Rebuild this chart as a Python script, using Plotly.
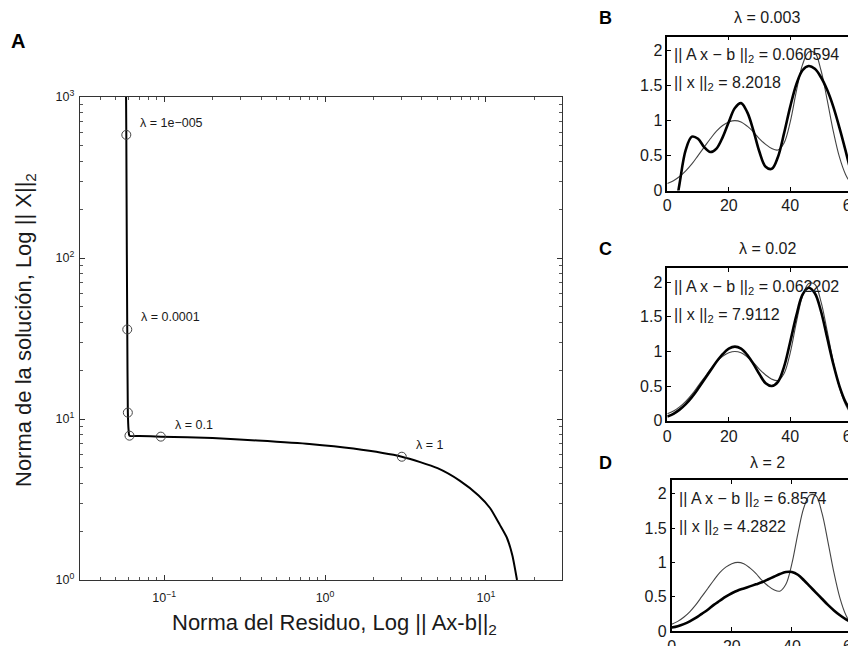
import math
import plotly.graph_objects as go

W, H = 856, 646
OFF = 8  # page body margin in the browser

# ---------------- Panel A : L-curve ----------------
res_curve = [0.0580, 0.0582, 0.0586, 0.0590, 0.0595, 0.0601, 0.0609, 0.0700, 0.0954,
             0.20, 0.38, 0.80, 1.50, 3.00, 5.00, 6.90, 9.00, 10.6, 12.2, 13.5, 14.6, 15.6]
sol_curve = [1000, 582, 120, 36, 10.96, 8.6, 7.88, 7.84, 7.77,
             7.62, 7.35, 7.0, 6.55, 5.83, 4.95, 4.13, 3.35, 2.8, 2.2, 1.83, 1.42, 1.0]

lam_res = [0.0582, 0.0590, 0.0595, 0.0609, 0.0954, 3.00]
lam_sol = [582, 36, 10.96, 7.88, 7.77, 5.83]
lam_text = ["λ = 1e−005", "λ = 0.0001", "", "", "λ = 0.1", "λ = 1"]

xA_ticks = [0.1, 1, 10]
xA_labels = ["10<sup>−1</sup>", "10<sup>0</sup>", "10<sup>1</sup>"]
yA_ticks = [1, 10, 100, 1000]
yA_labels = ["10<sup>0</sup>", "10<sup>1</sup>", "10<sup>2</sup>", "10<sup>3</sup>"]

# ---------------- Panels B, C, D ----------------
t = [0, 2, 4, 6, 8, 10, 12, 14, 16, 18, 20, 22, 24, 26, 28, 30,
     32, 34, 36, 38, 40, 42, 44, 46, 48, 50, 52, 54, 56, 58, 60, 62, 64]

exact = [0.10, 0.14, 0.20, 0.28, 0.38, 0.50, 0.62, 0.74, 0.85, 0.93, 0.98, 1.00, 0.98, 0.92, 0.84, 0.74,
         0.66, 0.60, 0.58, 0.68, 0.98, 1.42, 1.80, 1.98, 1.97, 1.72, 1.30, 0.85, 0.48, 0.23, 0.09, 0.03, 0.01]

sol_B = [-1.00, -0.45, 0.10, 0.58, 0.77, 0.74, 0.62, 0.55, 0.60, 0.76, 0.98, 1.18, 1.25, 1.12, 0.86, 0.55,
         0.34, 0.31, 0.48, 0.82, 1.20, 1.52, 1.72, 1.78, 1.74, 1.62, 1.44, 1.20, 0.90, 0.57, 0.22, -0.15, -0.55]

sol_C = [0.06, 0.10, 0.16, 0.24, 0.34, 0.46, 0.59, 0.72, 0.85, 0.96, 1.04, 1.07, 1.04, 0.95, 0.82, 0.67,
         0.54, 0.50, 0.56, 0.78, 1.14, 1.52, 1.82, 1.92, 1.84, 1.58, 1.20, 0.82, 0.50, 0.27, 0.13, 0.06, 0.03]

sol_D = [0.05, 0.07, 0.10, 0.14, 0.19, 0.25, 0.31, 0.38, 0.44, 0.50, 0.55, 0.59, 0.62, 0.65, 0.68, 0.71,
         0.75, 0.79, 0.83, 0.86, 0.86, 0.82, 0.74, 0.65, 0.56, 0.47, 0.38, 0.30, 0.23, 0.17, 0.12, 0.08, 0.05]

panel_titles = ["λ = 0.003", "λ = 0.02", "λ = 2"]
panel_letters = ["B", "C", "D"]
residual_txt = ["0.060594", "0.062202", "6.8574"]
norm_txt = ["8.2018", "7.9112", "4.2822"]
y_ticks = [0, 0.5, 1, 1.5, 2]
y_labels = ["0", "0.5", "1", "1.5", "2"]
x_ticks = [0, 20, 40, 60]

FONT = "Liberation Sans, Arial, Helvetica, sans-serif"
TXT = "#1a1a1a"


def px_x(p):
    return (p - OFF) / W


def px_y(p):
    return (H - (p - OFF)) / H


fig = go.Figure()

# Panel A traces
fig.add_trace(go.Scatter(x=res_curve, y=sol_curve, mode="lines",
                         line=dict(color="black", width=2, shape="spline", smoothing=0.6),
                         xaxis="x", yaxis="y", showlegend=False, hoverinfo="skip"))
fig.add_trace(go.Scatter(x=lam_res, y=lam_sol, mode="markers",
                         marker=dict(symbol="circle-open", size=9, color="#444",
                                     line=dict(width=1, color="#444")),
                         xaxis="x", yaxis="y", showlegend=False, hoverinfo="skip"))

annotations = []
for r, s, txt in zip(lam_res, lam_sol, lam_text):
    if txt:
        annotations.append(dict(x=math.log10(r), y=math.log10(s), xref="x", yref="y",
                                text=txt, showarrow=False, xanchor="left", yanchor="middle",
                                xshift=12, yshift=12, font=dict(size=12.5, color=TXT, family=FONT)))

minor_x = [m * 10 ** e for e in range(-2, 2) for m in range(2, 10)]
minor_y = [m * 10 ** e for e in range(0, 3) for m in range(2, 10)]

layout = dict(
    template="none",
    width=W, height=H, margin=dict(l=0, r=0, t=0, b=0, pad=0), autosize=False,
    paper_bgcolor="white", plot_bgcolor="white", showlegend=False,
    xaxis=dict(type="log", domain=[px_x(80), px_x(562)], automargin=False,
               range=[math.log10(0.03), math.log10(29.7)], anchor="y",
               tickvals=xA_ticks, ticktext=xA_labels, ticks="inside", ticklen=5,
               ticklabelstandoff=6,
               tickcolor="#333", showline=True, linecolor="#333", linewidth=1.2,
               mirror="allticks", showgrid=False, zeroline=False,
               minor=dict(ticks="inside", ticklen=3, tickvals=minor_x, tickcolor="#555", showgrid=False),
               tickfont=dict(size=12.5, color=TXT, family=FONT)),
    yaxis=dict(type="log", domain=[px_y(580), px_y(97)], range=[0, 3], anchor="x",
               automargin=False,
               tickvals=yA_ticks, ticktext=yA_labels, ticks="inside", ticklen=5,
               ticklabelstandoff=2,
               tickcolor="#333", showline=True, linecolor="#333", linewidth=1.2,
               mirror="allticks", showgrid=False, zeroline=False,
               minor=dict(ticks="inside", ticklen=3, tickvals=minor_y, tickcolor="#555", showgrid=False),
               tickfont=dict(size=12.5, color=TXT, family=FONT)),
)


def paper_text(x, y, text, size, xanchor="center", angle=0, color=TXT):
    return dict(x=px_x(x), y=px_y(y), xref="paper", yref="paper", text=text, showarrow=False,
                xanchor=xanchor, yanchor="middle", textangle=angle,
                font=dict(size=size, color=color, family=FONT))


annotations.append(paper_text(18, 41, "<b>A</b>", 20, color="black"))
annotations.append(paper_text(334, 624, "Norma del Residuo, Log || Ax-b||<sub>2</sub>", 22))
annotations.append(paper_text(25, 330, "Norma de la solución, Log || X||<sub>2</sub>", 22, angle=-90))

# Panel geometry (screen pixels): left, top, bottom
geo = [(667.3, 36.7, 190.5), (667.3, 268.3, 420.7), (671.7, 480.0, 631.0)]
title_y = [18, 249, 463]
sols = [sol_B, sol_C, sol_D]

for i in range(3):
    k = i + 2
    xa, ya = f"x{k}", f"y{k}"
    left, top, bottom = geo[i]
    fig.add_trace(go.Scatter(x=t, y=exact, mode="lines",
                             line=dict(color="#444", width=1.1, shape="spline"),
                             xaxis=xa, yaxis=ya, showlegend=False, hoverinfo="skip"))
    fig.add_trace(go.Scatter(x=t, y=sols[i], mode="lines",
                             line=dict(color="black", width=2.6, shape="spline"),
                             xaxis=xa, yaxis=ya, showlegend=False, hoverinfo="skip"))
    layout[f"xaxis{k}"] = dict(domain=[px_x(left), 1.0], range=[0, 64], anchor=ya,
                               automargin=False,
                               tickvals=x_ticks, ticks="inside", ticklen=4, tickcolor="black",
                               showline=True, linecolor="black", linewidth=1.5, mirror="allticks",
                               showgrid=False, zeroline=False,
                               tickfont=dict(size=16, color=TXT, family=FONT))
    layout[f"yaxis{k}"] = dict(domain=[px_y(bottom), px_y(top)], range=[0, 2.2], anchor=xa,
                               automargin=False,
                               tickvals=y_ticks, ticktext=y_labels, ticks="inside", ticklen=4,
                               tickcolor="black", showline=True, linecolor="black", linewidth=1.5,
                               mirror=False, showgrid=False, zeroline=False,
                               tickfont=dict(size=16, color=TXT, family=FONT))
    annotations.append(paper_text(605, title_y[i], f"<b>{panel_letters[i]}</b>", 18, color="black"))
    annotations.append(paper_text(767, title_y[i], panel_titles[i], 16))
    annotations.append(paper_text(left + 5, top + 19,
                                  f"|| A x − b ||<sub>2</sub> = {residual_txt[i]}", 16, xanchor="left"))
    annotations.append(paper_text(left + 5, top + 47,
                                  f"|| x ||<sub>2</sub> = {norm_txt[i]}", 16, xanchor="left"))

layout["annotations"] = annotations
fig.update_layout(**layout)
fig.write_html("out.html")
